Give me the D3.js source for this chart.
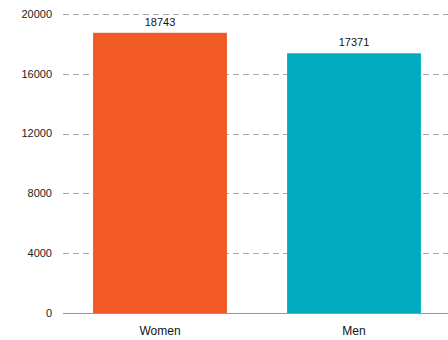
<!DOCTYPE html>
<html>
<head>
<meta charset="utf-8">
<script src="https://cdn.jsdelivr.net/npm/d3@7"></script>
<style>
  html, body { margin: 0; padding: 0; background: #fff; }
  svg text { font-family: "Liberation Sans", Arial, sans-serif; }
</style>
</head>
<body>
<svg id="chart" width="448" height="340"></svg>
<script>
// Category totals
const categories = ["Women", "Men"];
const values = [18743, 17371];
const barColors = ["#F15A24", "#00ABBF"];
const yTicks = [0, 4000, 8000, 12000, 16000, 20000];

const width = 448, height = 340;
const margin = { top: 14, right: 0, bottom: 27, left: 63 };

const svg = d3.select("#chart");

const x = d3.scaleBand()
  .domain(categories)
  .range([margin.left, margin.left + 388])
  .paddingInner(0.31)
  .paddingOuter(0.155);

const y = d3.scaleLinear()
  .domain([0, 20000])
  .range([height - margin.bottom, margin.top]);

// Horizontal gridlines
svg.append("g")
  .selectAll("line")
  .data(yTicks.filter(d => d > 0))
  .join("line")
  .attr("x1", margin.left)
  .attr("x2", width)
  .attr("y1", d => Math.round(y(d)) + 0.5)
  .attr("y2", d => Math.round(y(d)) + 0.5)
  .attr("stroke", "#aaaaaa")
  .attr("stroke-width", 1)
  .attr("stroke-dasharray", "6,4");

// Y tick labels
svg.append("g")
  .selectAll("text")
  .data(yTicks)
  .join("text")
  .attr("x", margin.left - 11)
  .attr("y", d => y(d))
  .attr("dy", "0.35em")
  .attr("text-anchor", "end")
  .attr("font-size", 11)
  .attr("fill", "#222")
  .text(d => d);

// Bars
svg.append("g")
  .selectAll("rect")
  .data(categories)
  .join("rect")
  .attr("x", d => x(d))
  .attr("width", x.bandwidth())
  .attr("y", (d, i) => y(values[i]))
  .attr("height", (d, i) => y(0) - y(values[i]))
  .attr("fill", (d, i) => barColors[i]);

// Value labels
svg.append("g")
  .selectAll("text")
  .data(categories)
  .join("text")
  .attr("x", d => x(d) + x.bandwidth() / 2)
  .attr("y", (d, i) => y(values[i]) - 7)
  .attr("text-anchor", "middle")
  .attr("font-size", 11)
  .attr("fill", "#111")
  .text((d, i) => values[i]);

// Baseline
svg.append("line")
  .attr("x1", margin.left)
  .attr("x2", width)
  .attr("y1", Math.round(y(0)) + 0.5)
  .attr("y2", Math.round(y(0)) + 0.5)
  .attr("stroke", "#999")
  .attr("stroke-width", 1);

// Category labels
svg.append("g")
  .selectAll("text")
  .data(categories)
  .join("text")
  .attr("x", d => x(d) + x.bandwidth() / 2)
  .attr("y", y(0) + 22)
  .attr("text-anchor", "middle")
  .attr("font-size", 12)
  .attr("fill", "#111")
  .text(d => d);
</script>
</body>
</html>
